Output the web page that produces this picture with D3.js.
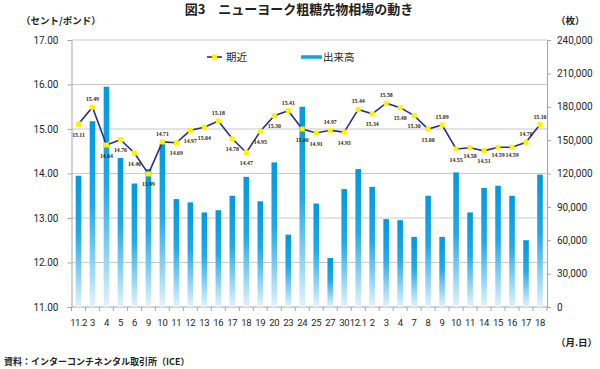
<!DOCTYPE html>
<html><head><meta charset="utf-8">
<script src="https://cdn.jsdelivr.net/npm/d3@7"></script>
<style>
html,body{margin:0;padding:0;background:#fff;}
svg{display:block;}
text{font-family:"Noto Sans CJK JP","Noto Sans",sans-serif;fill:#231f20;}
</style></head>
<body>
<svg id="c" width="600" height="369"></svg>
<script>
const categories = ["11.2","3","4","5","6","9","10","11","12","13","16","17","18","19","20","23","24","25","27","30","12.1","2","3","4","7","8","9","10","11","14","15","16","17","18"];
const priceValues = [15.11,15.49,14.64,14.76,14.46,13.99,14.71,14.69,14.97,15.04,15.18,14.78,14.47,14.95,15.30,15.41,15.00,14.91,14.97,14.93,15.44,15.34,15.58,15.48,15.30,15.00,15.09,14.55,14.58,14.51,14.59,14.59,14.70,15.10];
const volumeValues = [118000,167000,198000,134000,111000,124000,147000,97000,94000,85000,87000,100000,117000,95000,130000,65000,180000,93000,44000,106000,124000,108000,79000,78000,63000,100000,63000,121000,85000,107000,109000,100000,60000,119000];
// a = above, b = below, c = close below
const labelSide = ["b","a","b","b","b","b","a","b","b","b","a","b","b","b","b","a","b","b","a","b","a","b","a","b","b","b","a","b","c","b","c","c","a","a"];
const leftTicks = [11,12,13,14,15,16,17];
const rightTicks = [0,30000,60000,90000,120000,150000,180000,210000,240000];

const svg = d3.select("#c");
const L = 71.5, R = 547, T = 40, B = 307;

const x = d3.scaleBand().domain(d3.range(categories.length)).range([L, R]).paddingInner(0.6).paddingOuter(0.3);
const xb = d3.scaleBand().domain(d3.range(categories.length)).range([L, R]);
const yL = d3.scaleLinear().domain([11, 17]).range([B, T]);
const yR = d3.scaleLinear().domain([0, 240000]).range([B, T]);

const defs = svg.append("defs");
const grad = defs.append("linearGradient").attr("id","bg").attr("x1",0).attr("y1",0).attr("x2",0).attr("y2",1);
grad.append("stop").attr("offset","0%").attr("stop-color","#0099df");
grad.append("stop").attr("offset","45%").attr("stop-color","#21a9e8");
grad.append("stop").attr("offset","100%").attr("stop-color","#e3f3fc");
const lg = defs.append("linearGradient").attr("id","lg").attr("x1",0).attr("y1",0).attr("x2",0).attr("y2",1);
lg.append("stop").attr("offset","0%").attr("stop-color","#5cc6f2");
lg.append("stop").attr("offset","50%").attr("stop-color","#0099df");
lg.append("stop").attr("offset","100%").attr("stop-color","#5cc6f2");

// title
svg.append("text").attr("x",299).attr("y",14).attr("text-anchor","middle")
  .style("font-size","13px").style("font-weight","bold").text("図3　ニューヨーク粗糖先物相場の動き");
svg.append("text").attr("x",21).attr("y",24).style("font-size","9.5px").style("font-weight","bold").text("（セント/ポンド）");
svg.append("text").attr("x",556).attr("y",24).style("font-size","9.5px").style("font-weight","bold").text("（枚）");

// grid lines
svg.append("g").selectAll("line").data(leftTicks.filter(d=>d>11)).join("line")
  .attr("x1",L).attr("x2",R).attr("y1",d=>yL(d)).attr("y2",d=>yL(d))
  .attr("stroke","#c8c8c8").attr("stroke-width",1.2);

// left axis
const gL = svg.append("g").attr("transform",`translate(${L},0)`)
  .call(d3.axisLeft(yL).tickValues(leftTicks).tickFormat(d3.format(".2f")).tickSize(4).tickPadding(9));
gL.select(".domain").attr("stroke","#a6a6a6");
gL.selectAll(".tick line").attr("stroke","#a6a6a6");
gL.selectAll("text").style("font-size","10px").attr("fill","#231f20").style("font-family","Roboto, 'Noto Sans', sans-serif");

// right axis
const gR = svg.append("g").attr("transform",`translate(${R},0)`)
  .call(d3.axisRight(yR).tickValues(rightTicks).tickFormat(d3.format(",")).tickSize(4).tickPadding(6));
gR.select(".domain").attr("stroke","#a6a6a6");
gR.selectAll(".tick line").attr("stroke","#a6a6a6");
gR.selectAll("text").style("font-size","10px").attr("fill","#231f20").style("font-family","Roboto, 'Noto Sans', sans-serif");

// bottom axis
svg.append("line").attr("x1",L).attr("x2",R).attr("y1",B).attr("y2",B).attr("stroke","#a6a6a6");
svg.append("g").selectAll("line").data(d3.range(categories.length+1)).join("line")
  .attr("x1",d=>L+d*xb.step()).attr("x2",d=>L+d*xb.step()).attr("y1",B).attr("y2",B+4).attr("stroke","#a6a6a6");
svg.append("g").selectAll("text").data(categories).join("text")
  .attr("x",(d,i)=>xb(i)+xb.bandwidth()/2).attr("y",326).attr("text-anchor","middle")
  .style("font-size","9.5px").style("font-family","Roboto, 'Noto Sans', sans-serif")
  .style("letter-spacing",d=>d.indexOf(".")>=0?"-0.45px":"-0.3px").text(d=>d);
svg.append("text").attr("x",556).attr("y",346).style("font-size","9.5px").style("font-weight","bold").text("（月.日）");

// bars
svg.append("g").selectAll("rect").data(volumeValues).join("rect")
  .attr("x",(d,i)=>x(i)).attr("width",x.bandwidth())
  .attr("y",d=>yR(d)).attr("height",d=>B-yR(d)).attr("fill","url(#bg)");

// line
const line = d3.line().x((d,i)=>xb(i)+xb.bandwidth()/2).y(d=>yL(d));
svg.append("path").datum(priceValues).attr("d",line).attr("fill","none").attr("stroke","#2b2e8c").attr("stroke-width",1.6);
svg.append("g").selectAll("rect").data(priceValues).join("rect")
  .attr("x",(d,i)=>xb(i)+xb.bandwidth()/2-2.5).attr("y",d=>yL(d)-2.5).attr("width",5).attr("height",5)
  .attr("fill","#fff200");

// labels
const off = {a:-6, b:12.5, c:10};
svg.append("g").selectAll("text").data(priceValues).join("text")
  .attr("x",(d,i)=>xb(i)+xb.bandwidth()/2).attr("y",(d,i)=>yL(d)+off[labelSide[i]])
  .attr("text-anchor","middle").style("font-size","5.8px").style("font-weight","bold")
  .style("font-family","'Liberation Serif', serif").attr("fill","#333")
  .text(d=>d3.format(".2f")(d));

// legend
svg.append("line").attr("x1",207).attr("x2",222).attr("y1",57).attr("y2",57).attr("stroke","#2b2e8c").attr("stroke-width",1.6);
svg.append("rect").attr("x",212).attr("y",54.5).attr("width",5).attr("height",5).attr("fill","#fff200");
svg.append("text").attr("x",226).attr("y",61).style("font-size","10.5px").text("期近");
svg.append("rect").attr("x",301).attr("y",55).attr("width",21).attr("height",4).attr("fill","url(#lg)");
svg.append("text").attr("x",323).attr("y",61).style("font-size","10.5px").text("出来高");

// source
svg.append("text").attr("x",4).attr("y",365).style("font-size","9px").style("font-weight","bold").text("資料：インターコンチネンタル取引所（ICE）");
</script>
</body></html>
